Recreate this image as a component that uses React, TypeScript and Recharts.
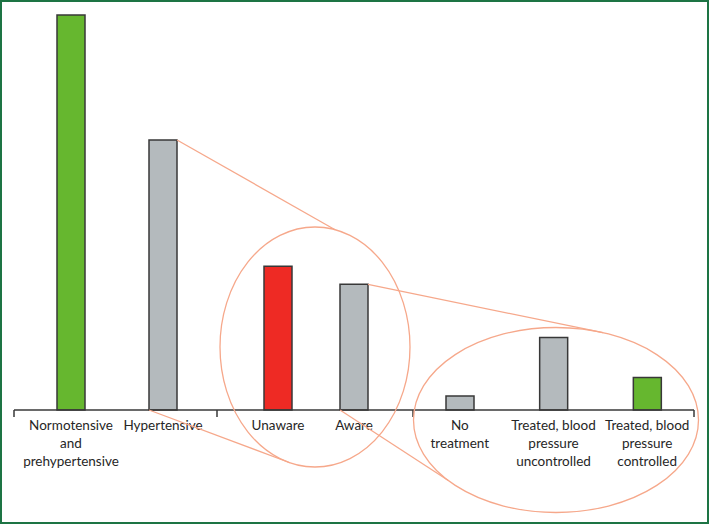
import React from 'react';
import { BarChart, Bar, XAxis, YAxis, Cell } from 'recharts';

// ---- data ----
const overallCategories = ['Normotensive and prehypertensive', 'Hypertensive'];
const overallValues = [59.4, 40.6];
const awarenessCategories = ['Unaware', 'Aware'];
const awarenessValues = [21.6, 18.9];
const treatmentCategories = [
  'No treatment',
  'Treated, blood pressure uncontrolled',
  'Treated, blood pressure controlled',
];
const treatmentValues = [2.1, 10.9, 4.9];

// tick label line breaks
const tickLines: Record<string, string[]> = {
  'Normotensive and prehypertensive': ['Normotensive', 'and', 'prehypertensive'],
  Hypertensive: ['Hypertensive'],
  Unaware: ['Unaware'],
  Aware: ['Aware'],
  'No treatment': ['No', 'treatment'],
  'Treated, blood pressure uncontrolled': ['Treated, blood', 'pressure', 'uncontrolled'],
  'Treated, blood pressure controlled': ['Treated, blood', 'pressure', 'controlled'],
};

// ---- styles / layout ----
const GREEN = '#66b72f';
const GREY = '#b4babd';
const RED = '#ee2a24';
const SALMON = '#f6a88b';
const INK = '#383838';
const TEXT = '#262626';
const overallColors = [GREEN, GREY];
const awarenessColors = [RED, GREY];
const treatmentColors = [GREY, GREY, GREEN];

const W = 709;
const H = 524;
const PLOT_TOP = 15;
const AXIS_Y = 410;
const X_AXIS_H = 60;
const BAR_W = 28;
const maxValue = Math.max(...overallValues, ...awarenessValues, ...treatmentValues);

const groups = [
  { left: 14, width: 203, padL: 11, padR: 8, cats: overallCategories, vals: overallValues, colors: overallColors },
  { left: 217, width: 196, padL: 23, padR: 21, cats: awarenessCategories, vals: awarenessValues, colors: awarenessColors },
  { left: 413, width: 281, padL: 0, padR: 0, cats: treatmentCategories, vals: treatmentValues, colors: treatmentColors },
];

const bandCenter = (g: typeof groups[number], i: number) => {
  const band = (g.width - g.padL - g.padR) / g.cats.length;
  return g.left + g.padL + band * (i + 0.5);
};
const yOf = (v: number) => AXIS_Y - (v / maxValue) * (AXIS_Y - PLOT_TOP);

const Tick = (props: any) => {
  const { x, payload } = props;
  const lines = tickLines[payload.value] || [payload.value];
  return (
    <text x={x} y={AXIS_Y + 20} textAnchor="middle" fill={TEXT} fontSize={13.5} fontFamily="Lato, sans-serif">
      {lines.map((l, i) => (
        <tspan key={i} x={x} dy={i === 0 ? 0 : 18}>
          {l}
        </tspan>
      ))}
    </text>
  );
};

const GroupChart = ({ g }: { g: typeof groups[number] }) => {
  const data = g.cats.map((c, i) => ({ name: c, value: g.vals[i] }));
  return (
    <div style={{ position: 'absolute', left: g.left, top: 0 }}>
      <BarChart
        width={g.width}
        height={H}
        data={data}
        margin={{ top: PLOT_TOP, right: 0, bottom: H - AXIS_Y - X_AXIS_H, left: 0 }}
      >
        <XAxis
          dataKey="name"
          interval={0}
          height={X_AXIS_H}
          padding={{ left: g.padL, right: g.padR }}
          axisLine={{ stroke: INK, strokeWidth: 1.5 }}
          tickLine={false}
          tick={<Tick />}
        />
        <YAxis hide domain={[0, maxValue]} />
        <Bar dataKey="value" barSize={BAR_W} stroke={INK} strokeWidth={1.5} isAnimationActive={false}>
          {data.map((d, i) => (
            <Cell key={i} fill={g.colors[i]} />
          ))}
        </Bar>
      </BarChart>
    </div>
  );
};

// callout ellipses
const ellipse1 = { cx: groups[1].left + groups[1].width / 2, cy: 347, rx: 95, ry: 120 };
const ellipse2 = { cx: 556, cy: 420, rx: 142.5, ry: 92.5 };
const onEllipse = (e: typeof ellipse1, deg: number) => {
  const t = (deg * Math.PI) / 180;
  return { x: e.cx + e.rx * Math.cos(t), y: e.cy + e.ry * Math.sin(t) };
};

export default function App() {
  const hyperX = bandCenter(groups[0], 1);
  const hyperTop = yOf(overallValues[1]);
  const awareX = bandCenter(groups[1], 1);
  const awareTop = yOf(awarenessValues[1]);
  const connectors = [
    { from: { x: hyperX + BAR_W / 2, y: hyperTop }, to: onEllipse(ellipse1, -77.8) },
    { from: { x: hyperX - BAR_W / 2, y: AXIS_Y }, to: onEllipse(ellipse1, 105.3) },
    { from: { x: awareX + BAR_W / 2, y: awareTop }, to: onEllipse(ellipse2, -70.7) },
    { from: { x: awareX - BAR_W / 2, y: AXIS_Y }, to: onEllipse(ellipse2, 139.3) },
  ];
  const boundaries = [groups[0].left, groups[1].left, groups[2].left, groups[2].left + groups[2].width];

  return (
    <div style={{ position: 'absolute', left: 0, top: 0, width: W, height: H, background: '#fff', overflow: 'hidden' }}>
      {groups.map((g, i) => (
        <GroupChart key={i} g={g} />
      ))}
      <svg width={W} height={H} style={{ position: 'absolute', left: 0, top: 0, pointerEvents: 'none' }}>
        {boundaries.map((x, i) => (
          <line key={i} x1={x} x2={x} y1={AXIS_Y} y2={AXIS_Y + 7} stroke={INK} strokeWidth={1.5} />
        ))}
        {[ellipse1, ellipse2].map((e, i) => (
          <ellipse key={i} cx={e.cx} cy={e.cy} rx={e.rx} ry={e.ry} fill="none" stroke={SALMON} strokeWidth={1.3} />
        ))}
        {connectors.map((c, i) => (
          <line key={i} x1={c.from.x} y1={c.from.y} x2={c.to.x} y2={c.to.y} stroke={SALMON} strokeWidth={1.3} />
        ))}
      </svg>
      <div
        style={{
          position: 'absolute',
          left: 0,
          top: 0,
          width: W,
          height: H,
          boxSizing: 'border-box',
          border: '2.5px solid #1d7444',
          pointerEvents: 'none',
        }}
      />
    </div>
  );
}
